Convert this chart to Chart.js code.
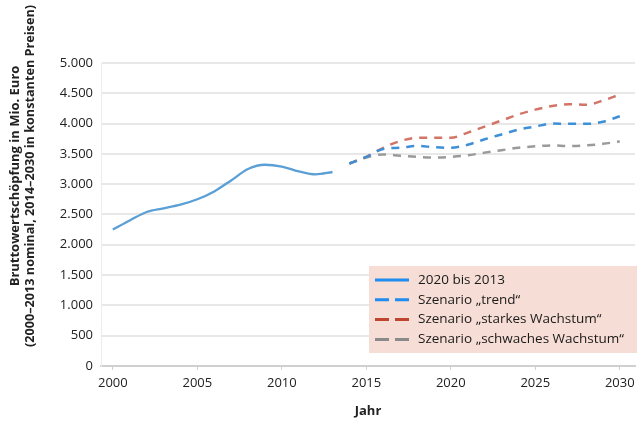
<!DOCTYPE html>
<html>
<head>
<meta charset="utf-8">
<script src="https://cdn.jsdelivr.net/npm/chart.js@4/dist/chart.umd.min.js"></script>
<style>
  html, body { margin: 0; padding: 0; background: #fff; }
  #wrap { width: 641px; height: 423px; }
</style>
</head>
<body>
<div id="wrap"><canvas id="chart" width="641" height="423"></canvas></div>
<script>
// values (Mio. Euro)
const histYears = [2000, 2001, 2002, 2003, 2004, 2005, 2006, 2007, 2008, 2009, 2010, 2011, 2012, 2013]
const histValues = [2250, 2400, 2540, 2600, 2660, 2750, 2880, 3060, 3250, 3320, 3290, 3210, 3160, 3200]

const scenYears = [2014, 2015, 2016, 2017, 2018, 2019, 2020, 2021, 2022, 2023, 2024, 2025, 2026, 2027, 2028, 2029, 2030]
const trendValues  = [3340, 3450, 3580, 3600, 3630, 3610, 3600, 3650, 3740, 3820, 3900, 3950, 4000, 3995, 3995, 4030, 4120]
const strongValues = [3340, 3450, 3600, 3710, 3765, 3765, 3765, 3850, 3950, 4050, 4150, 4230, 4290, 4320, 4310, 4380, 4480]
const weakValues   = [3340, 3440, 3490, 3470, 3450, 3440, 3450, 3475, 3520, 3560, 3600, 3625, 3640, 3630, 3640, 3665, 3705]

const xTicks = [2000, 2005, 2010, 2015, 2020, 2025, 2030]
const labels = ['2020 bis 2013', 'Szenario \u201etrend\u201c', 'Szenario \u201estarkes Wachstum\u201c', 'Szenario \u201eschwaches Wachstum\u201c']
const yTitle = ['Bruttowertschöpfung in Mio. Euro', '(2000\u20132013 nominal, 2014\u20132030 in konstanten Preisen)']

const toPoints = (xs, ys) => xs.map((x, i) => ({ x: x, y: ys[i] }))
const fmt = v => String(v).replace(/\B(?=(\d{3})+(?!\d))/g, '.')

const font = "'Open Sans'"

// y title sits higher than the plot centre in the original, so draw it by hand
const sideTitle = {
    id: 'sideTitle',
    afterDraw(chart) {
        const ctx = chart.ctx
        ctx.save()
        ctx.translate(0, 176)
        ctx.rotate(-Math.PI / 2)
        ctx.font = "bold 13px " + font
        ctx.fillStyle = '#222'
        ctx.textAlign = 'center'
        ctx.textBaseline = 'middle'
        ctx.fillText(yTitle[0], 0, 15)
        ctx.fillText(yTitle[1], 0, 30, 342)
        ctx.restore()
    }
}

// legend drawn inside the plot, on a pink box
const boxLegend = {
    id: 'boxLegend',
    afterDraw(chart) {
        const ctx = chart.ctx
        const x = 369, y = 266, w = 268, h = 87
        ctx.save()
        ctx.fillStyle = '#f6ddd5'
        ctx.fillRect(x, y, w, h)
        ctx.font = "13.5px " + font
        ctx.textBaseline = 'middle'
        chart.data.datasets.forEach((ds, i) => {
            const ly = y + 14 + i * 19.8
            ctx.strokeStyle = ds.legendColor
            ctx.lineWidth = 3
            ctx.setLineDash(ds.borderDash && ds.borderDash.length ? [14, 6] : [])
            ctx.beginPath()
            ctx.moveTo(x + 6, ly)
            ctx.lineTo(x + 40, ly)
            ctx.stroke()
            ctx.setLineDash([])
            ctx.fillStyle = '#1a1a1a'
            ctx.fillText(ds.label, x + 49, ly)
        })
        ctx.restore()
    }
}

const ctx = document.getElementById('chart').getContext('2d')

new Chart(ctx, {
    type: 'line',
    data: {
        datasets: [{
            label: labels[0],
            data: toPoints(histYears, histValues),
            borderColor: '#5a9fd6',
            legendColor: '#1e8cf0',
            borderWidth: 2.3,
        }, {
            label: labels[1],
            data: toPoints(scenYears, trendValues),
            borderColor: '#3d8fd8',
            legendColor: '#1e8cf0',
            borderWidth: 2.5,
            borderDash: [8, 7],
        }, {
            label: labels[2],
            data: toPoints(scenYears, strongValues),
            borderColor: '#d27466',
            legendColor: '#c0452e',
            borderWidth: 2.5,
            borderDash: [8, 7],
        }, {
            label: labels[3],
            data: toPoints(scenYears, weakValues),
            borderColor: '#9a9a9a',
            legendColor: '#8a8a8a',
            borderWidth: 2.5,
            borderDash: [8, 7],
        }]
    },
    options: {
        responsive: false,
        animation: false,
        elements: {
            point: { radius: 0 },
            line: { tension: 0.4, cubicInterpolationMode: 'monotone' }
        },
        layout: { padding: { top: 63, right: 6, left: 38, bottom: 0 } },
        scales: {
            x: {
                type: 'linear',
                min: 1999.3,
                max: 2030.9,
                afterBuildTicks: axis => { axis.ticks = xTicks.map(v => ({ value: v })) },
                grid: { drawOnChartArea: false, drawTicks: true, tickLength: 4, color: '#d0d0d0' },
                border: { color: '#d0d0d0', width: 2 },
                ticks: {
                    color: '#222',
                    font: { family: font, size: 13 },
                    padding: 6,
                    callback: v => String(v)
                },
                title: {
                    display: true,
                    text: 'Jahr',
                    color: '#222',
                    font: { family: font, size: 13, weight: 'bold' },
                    padding: { top: 6 }
                }
            },
            y: {
                min: 0,
                max: 5000,
                afterFit: axis => { axis.width = 63 },
                ticks: {
                    stepSize: 500,
                    color: '#222',
                    font: { family: font, size: 13 },
                    padding: 8,
                    callback: v => fmt(v)
                },
                grid: { color: '#e8e8e8', lineWidth: 2, drawTicks: false },
                border: { color: '#ececec', width: 1 }
            }
        },
        plugins: {
            legend: { display: false },
            tooltip: { enabled: false }
        }
    },
    plugins: [sideTitle, boxLegend]
})
</script>
</body>
</html>
